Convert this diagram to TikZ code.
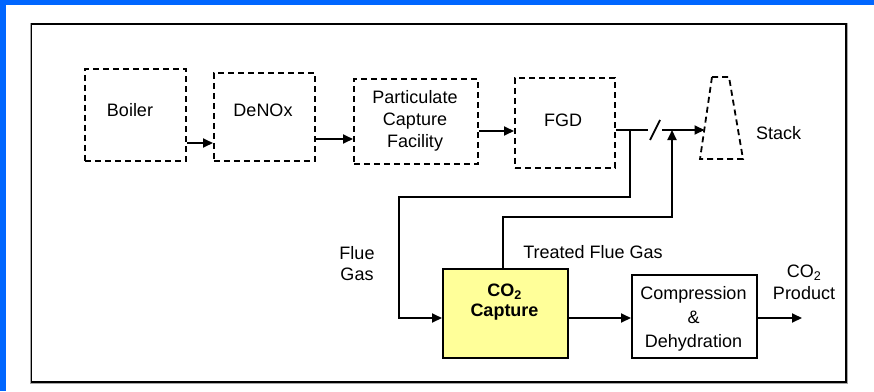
\documentclass[tikz,border=0pt]{standalone}
\usepackage{fontspec}
\setmainfont{Liberation Sans}
\usetikzlibrary{arrows.meta}
\definecolor{bgblue}{RGB}{0,102,255}
\definecolor{capyellow}{RGB}{255,255,153}
\tikzset{
  dbox/.style={draw, line width=1.8pt, dash pattern=on 6pt off 4pt, inner sep=0pt, anchor=north west},
  sbox/.style={draw, line width=1.8pt, inner sep=0pt, anchor=north west},
  txt/.style={font=\fontsize{18}{22}\selectfont, align=center, inner sep=0pt},
  conn/.style={line width=1.8pt},
  arr/.style={line width=1.8pt, -{Triangle[length=10pt,width=9pt]}},
}
\begin{document}
\begin{tikzpicture}[x=1pt,y=-1pt]
\useasboundingbox (0,0) rectangle (874,391);
% background
\fill[white] (0,0) rectangle (874,391);
\fill[bgblue] (0,0) rectangle (874,5);
\fill[bgblue] (0,0) rectangle (6,391);
% frame
\draw[gray!70, line width=1pt] (30.5,23) rectangle (847,383);
\draw[black, line width=1.5pt] (31.5,24) rectangle (846,382);

% upper dashed boxes
\node[dbox, minimum width=101pt, minimum height=92pt] (boiler) at (84,68) {};
\node[txt] (boilert) at (130,110) {Boiler};
\node[dbox, minimum width=101pt, minimum height=88pt] (denox) at (213,72) {};
\node[txt] (denoxt) at (263,110) {DeNOx};
\node[dbox, minimum width=124pt, minimum height=85pt] (part) at (353,78) {};
\node[txt] (partt) at (415,121) {Particulate\\Capture\\Facility};
\node[dbox, minimum width=100pt, minimum height=90pt] (fgd) at (514,77) {};
\node[txt] (fgdt) at (563,120) {FGD};

% stack
\draw[line width=1.8pt, dash pattern=on 6pt off 4pt] (712,77) -- (729,77) -- (743,159) -- (700,159) -- cycle;
\coordinate (stackin) at (704.5,130);
\node[txt, anchor=west] (stackt) at (756,133) {Stack};

% lower boxes
\node[sbox, fill=capyellow, minimum width=125pt, minimum height=89pt] (cap) at (442,268) {};
\node[txt, font=\bfseries\fontsize{18}{20.5}\selectfont] (capt) at (504.5,302) {CO\textsubscript{2}\\Capture};
\node[sbox, fill=white, minimum width=125pt, minimum height=83pt] (comp) at (631,274) {};
\node[txt, font=\fontsize{18}{24}\selectfont] (compt) at (693.5,319) {Compression\\\&\\Dehydration};

% labels
\node[txt, font=\fontsize{18}{21}\selectfont] (fluet) at (357,264) {Flue\\Gas};
\node[txt] (treatt) at (593,252) {Treated Flue Gas};
\node[txt] (prodt) at (804,282) {CO\textsubscript{2}\\Product};

% helper coordinates
\coordinate (y1) at (0,143);
\coordinate (y2) at (0,139);
\coordinate (y3) at (0,131);
\coordinate (y4) at (0,130);
\coordinate (y5) at (0,318);
\coordinate (b1) at (630,130);
\coordinate (b2) at (630,197);
\coordinate (b3) at (399,197);
\coordinate (b4) at (399,318);
\coordinate (g1) at (648,130);
\coordinate (g2) at (662,130);
\coordinate (s1) at (650,140);
\coordinate (s2) at (660,120);
\coordinate (t1) at (503,268);
\coordinate (t2) at (503,217);
\coordinate (t3) at (672,217);
\coordinate (t4) at (672,130);
\coordinate (out) at (802,318);

% connectors
\draw[arr] (boiler.east |- y1) -- (denox.west |- y1);
\draw[arr] (denox.east |- y2) -- (part.west |- y2);
\draw[arr] (part.east |- y3) -- (fgd.west |- y3);
\draw[conn] (fgd.east |- y4) -- (g1);
\draw[conn] (s1) -- (s2);
\draw[arr] (g2) -- (stackin);
\draw[arr] (b1) -- (b2) -- (b3) -- (b4) -- (cap.west |- y5);
\draw[arr] (t1) -- (t2) -- (t3) -- (t4);
\draw[arr] (cap.east |- y5) -- (comp.west |- y5);
\draw[arr] (comp.east |- y5) -- (out);
\end{tikzpicture}
\end{document}
